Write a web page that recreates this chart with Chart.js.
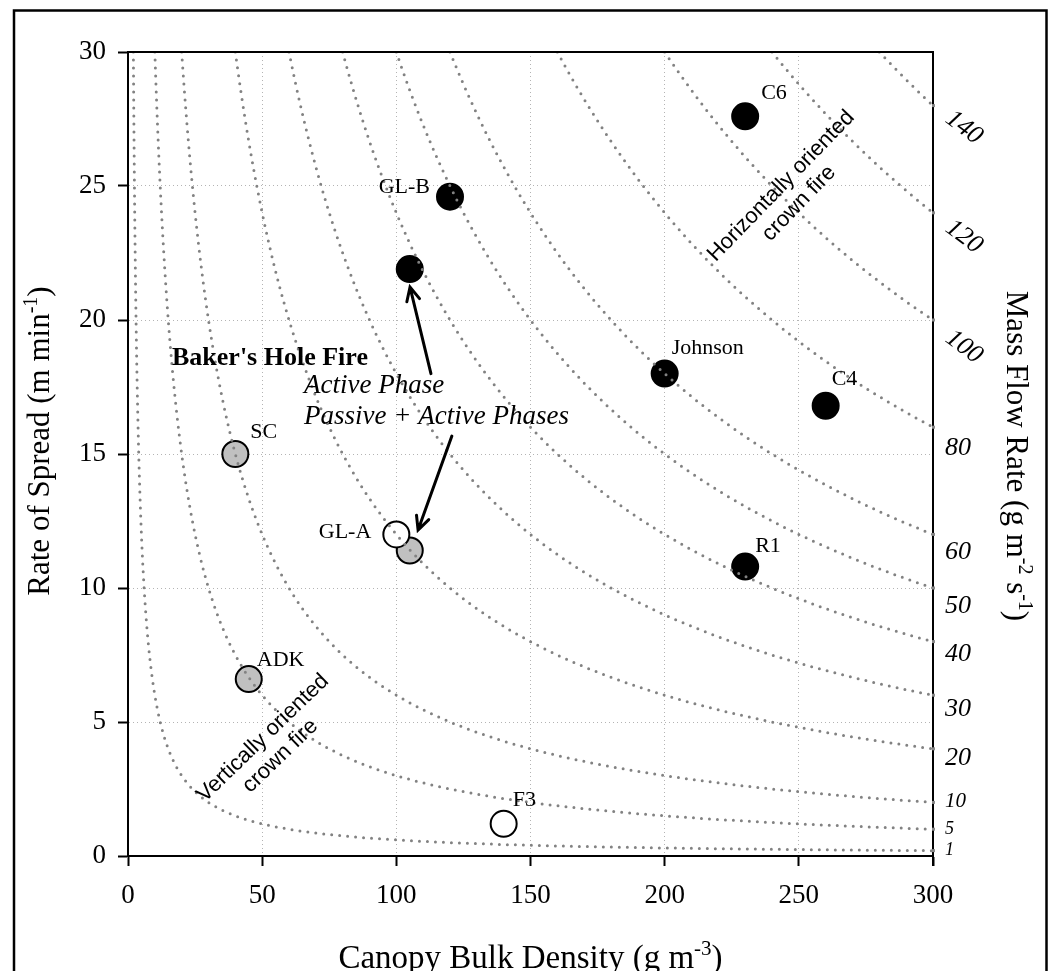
<!DOCTYPE html>
<html>
<head>
<meta charset="utf-8">
<script src="https://cdn.jsdelivr.net/npm/chart.js@4.4.0/dist/chart.umd.min.js"></script>
<style>
  html, body { margin: 0; padding: 0; background: #fff; }
</style>
</head>
<body>
<canvas id="chart" width="1052" height="971"></canvas>
<script>
// observed crown fires: canopy bulk density (g m-3) vs rate of spread (m min-1)
const siteLabels = ['C6', 'GL-B', '', 'Johnson', 'C4', 'R1', 'SC', '', 'ADK', 'GL-A', 'F3'];
const siteCbd = [230, 120, 105, 200, 260, 230, 40, 105, 45, 100, 140];
const siteRos = [27.6, 24.6, 21.9, 18.0, 16.8, 10.8, 15.0, 11.4, 6.6, 12.0, 1.2];
const siteType = ['black', 'black', 'black', 'black', 'black', 'black', 'gray', 'gray', 'gray', 'white', 'white'];

// mass flow rate isolines (g m-2 s-1)
const massFlowLevels = [1, 5, 10, 20, 30, 40, 50, 60, 80, 100, 120, 140];

const cbdTicks = [0, 50, 100, 150, 200, 250, 300];
const rosTicks = [0, 5, 10, 15, 20, 25, 30];

const serif = "'Liberation Serif', 'Times New Roman', serif";
const sans = "'Liberation Sans', Arial, sans-serif";

const fillColors = { black: '#000000', gray: '#c0c0c0', white: '#ffffff' };

// an isoline: ROS (m/min) * CBD (g/m3) / 60 = mass flow rate
function isoline(mfr) {
  const start = mfr * 60 / 30;
  const pts = [];
  const n = 120;
  for (let i = 0; i <= n; i++) {
    const cbd = start * Math.pow(300 / start, i / n);
    pts.push({ x: cbd, y: mfr * 60 / cbd });
  }
  return pts;
}

// label placement, pixels from the marker centre
const labelOffset = {
  'C6': [16, -17, 'left'],
  'GL-B': [-20, -4, 'right'],
  'Johnson': [7, -20, 'left'],
  'C4': [6, -21, 'left'],
  'R1': [10, -15, 'left'],
  'SC': [15, -16, 'left'],
  'GL-A': [-25, 4, 'right'],
  'ADK': [8, -13, 'left'],
  'F3': [9, -18, 'left']
};

// right axis label styling
const rightLabelSize = [18, 18, 21, 26, 26, 26, 26, 26, 26, 26, 26, 26];
const rightLabelShift = [0, 0, -1, 9, 14, 13, 18, 18, 21, 27, 24, 22];
const rightLabelAngle = [0, 0, 0, 0, 0, 0, 0, 0, 0, 37, 37, 37];

function drawRich(ctx, parts, x, y, angle) {
  ctx.save();
  ctx.translate(x, y);
  ctx.rotate(angle * Math.PI / 180);
  let total = 0;
  parts.forEach(p => {
    ctx.font = (p.style || '') + ' ' + p.size + 'px ' + serif;
    p.w = ctx.measureText(p.t).width;
    total += p.w;
  });
  let cx = -total / 2;
  ctx.fillStyle = '#000';
  ctx.textBaseline = 'alphabetic';
  ctx.textAlign = 'left';
  parts.forEach(p => {
    ctx.font = (p.style || '') + ' ' + p.size + 'px ' + serif;
    ctx.fillText(p.t, cx, -(p.rise || 0));
    cx += p.w;
  });
  ctx.restore();
}

function arrow(ctx, x1, y1, x2, y2) {
  const a = Math.atan2(y2 - y1, x2 - x1);
  const len = 15, spread = 0.45;
  ctx.save();
  ctx.strokeStyle = '#000';
  ctx.lineWidth = 3;
  ctx.lineCap = 'round';
  ctx.beginPath();
  ctx.moveTo(x1, y1);
  ctx.lineTo(x2, y2);
  ctx.moveTo(x2 - len * Math.cos(a - spread), y2 - len * Math.sin(a - spread));
  ctx.lineTo(x2, y2);
  ctx.lineTo(x2 - len * Math.cos(a + spread), y2 - len * Math.sin(a + spread));
  ctx.stroke();
  ctx.restore();
}

function twoLines(ctx, lines, x, y, angle) {
  ctx.save();
  ctx.translate(x, y);
  ctx.rotate(angle * Math.PI / 180);
  ctx.font = '22px ' + sans;
  ctx.fillStyle = '#000';
  ctx.textAlign = 'center';
  ctx.textBaseline = 'middle';
  lines.forEach((t, i) => ctx.fillText(t, 0, i * 25));
  ctx.restore();
}

const annotations = {
  id: 'annotations',
  afterDraw(chart) {
    const { ctx, chartArea: ca, scales: { x, y } } = chart;

    // frame: top and right edges of the plot
    ctx.save();
    ctx.strokeStyle = '#000';
    ctx.lineWidth = 2;
    ctx.beginPath();
    ctx.moveTo(ca.left - 1, ca.top);
    ctx.lineTo(ca.right, ca.top);
    ctx.lineTo(ca.right, ca.bottom + 10);
    ctx.stroke();
    ctx.restore();

    // right axis: mass flow rate labels at isoline ends
    massFlowLevels.forEach((m, i) => {
      const py = y.getPixelForValue(m * 60 / 300);
      ctx.fillStyle = '#888';
      ctx.fillRect(ca.right - 1, py - 1.5, 3, 3);
      ctx.save();
      ctx.font = 'italic ' + rightLabelSize[i] + 'px ' + serif;
      ctx.fillStyle = '#000';
      ctx.textBaseline = 'middle';
      const ly = py + rightLabelShift[i];
      if (rightLabelAngle[i]) {
        ctx.translate(ca.right + 31, ly);
        ctx.rotate(rightLabelAngle[i] * Math.PI / 180);
        ctx.textAlign = 'center';
        ctx.fillText(String(m), 0, 0);
      } else {
        ctx.textAlign = 'left';
        ctx.fillText(String(m), ca.right + 12, ly);
      }
      ctx.restore();
    });

    // axis titles
    drawRich(ctx, [
      { t: 'Canopy Bulk Density (g m', size: 33 },
      { t: '-3', size: 21, rise: 13 },
      { t: ')', size: 33 }
    ], (ca.left + ca.right) / 2, 968, 0);
    drawRich(ctx, [
      { t: 'Rate of Spread (m min', size: 31 },
      { t: '-1', size: 20, rise: 12 },
      { t: ')', size: 31 }
    ], 49, 441, -90);
    drawRich(ctx, [
      { t: 'Mass Flow Rate (g m', size: 31 },
      { t: '-2', size: 20, rise: 12 },
      { t: ' s', size: 31 },
      { t: '-1', size: 20, rise: 12 },
      { t: ')', size: 31 }
    ], 1007, 456, 90);

    // site labels
    ctx.save();
    ctx.font = '22px ' + serif;
    ctx.fillStyle = '#000';
    ctx.textBaseline = 'alphabetic';
    siteLabels.forEach((name, i) => {
      if (!name) return;
      const off = labelOffset[name];
      ctx.textAlign = off[2];
      ctx.fillText(name, x.getPixelForValue(siteCbd[i]) + off[0], y.getPixelForValue(siteRos[i]) + off[1]);
    });
    ctx.restore();

    // Baker's Hole Fire legend text
    ctx.save();
    ctx.fillStyle = '#000';
    ctx.textAlign = 'left';
    ctx.textBaseline = 'alphabetic';
    ctx.font = 'bold 26px ' + serif;
    ctx.fillText("Baker's Hole Fire", x.getPixelForValue(16.4), y.getPixelForValue(18.32));
    ctx.font = 'italic 27px ' + serif;
    ctx.fillText('Active Phase', x.getPixelForValue(65.6), y.getPixelForValue(17.28));
    ctx.fillText('Passive + Active Phases', x.getPixelForValue(65.6), y.getPixelForValue(16.12));
    ctx.restore();

    arrow(ctx, x.getPixelForValue(112.9), y.getPixelForValue(18.0), x.getPixelForValue(105.1), y.getPixelForValue(21.23));
    arrow(ctx, x.getPixelForValue(120.7), y.getPixelForValue(15.67), x.getPixelForValue(108.1), y.getPixelForValue(12.16));

    twoLines(ctx, ['Horizontally oriented', 'crown fire'], x.getPixelForValue(243.4), y.getPixelForValue(25.0), -46);
    twoLines(ctx, ['Vertically oriented', 'crown fire'], x.getPixelForValue(50.3), y.getPixelForValue(4.4), -44);

    // outer figure border
    ctx.save();
    ctx.strokeStyle = '#000';
    ctx.lineWidth = 2.5;
    ctx.strokeRect(14, 10.5, 1032.5, 975);
    ctx.restore();
  }
};

const curveSets = massFlowLevels.map(m => ({
  data: isoline(m),
  showLine: true,
  pointRadius: 0,
  borderColor: '#828282',
  borderWidth: 3,
  borderDash: [0, 8],
  borderCapStyle: 'round',
  order: 0
}));

const siteSet = {
  data: siteCbd.map((v, i) => ({ x: v, y: siteRos[i] })),
  pointRadius: 13,
  pointHoverRadius: 13,
  pointBorderWidth: 2,
  pointBorderColor: '#000',
  pointBackgroundColor: siteType.map(t => fillColors[t]),
  showLine: false,
  order: 1
};

const gridColor = (max) => (c) => (c.tick && (c.tick.value === 0 || c.tick.value === max)) ? 'rgba(0,0,0,0)' : '#b4b4b4';

new Chart(document.getElementById('chart'), {
  type: 'scatter',
  data: { datasets: [...curveSets, siteSet] },
  options: {
    responsive: false,
    animation: false,
    devicePixelRatio: 1,
    layout: { padding: { left: 0, top: 52, right: 119, bottom: 0 } },
    plugins: { legend: { display: false }, tooltip: { enabled: false } },
    scales: {
      x: {
        type: 'linear', min: 0, max: 300,
        afterFit: s => { s.height = 115; },
        afterBuildTicks: s => { s.ticks = cbdTicks.map(v => ({ value: v })); },
        ticks: { font: { family: serif, size: 27 }, color: '#000', padding: 14, maxRotation: 0 },
        grid: { color: gridColor(300), lineWidth: 1, tickColor: '#000', tickWidth: 2, tickLength: 10, tickBorderDash: [] },
        border: { color: '#000', width: 2, dash: [1, 3] }
      },
      y: {
        type: 'linear', min: 0, max: 30,
        afterFit: s => { s.width = 128; },
        afterBuildTicks: s => { s.ticks = rosTicks.map(v => ({ value: v })); },
        ticks: { font: { family: serif, size: 27 }, color: '#000', padding: 12 },
        grid: { color: gridColor(30), lineWidth: 1, tickColor: '#000', tickWidth: 2, tickLength: 10, tickBorderDash: [] },
        border: { color: '#000', width: 2, dash: [1, 3] }
      }
    }
  },
  plugins: [annotations]
});
</script>
</body>
</html>
